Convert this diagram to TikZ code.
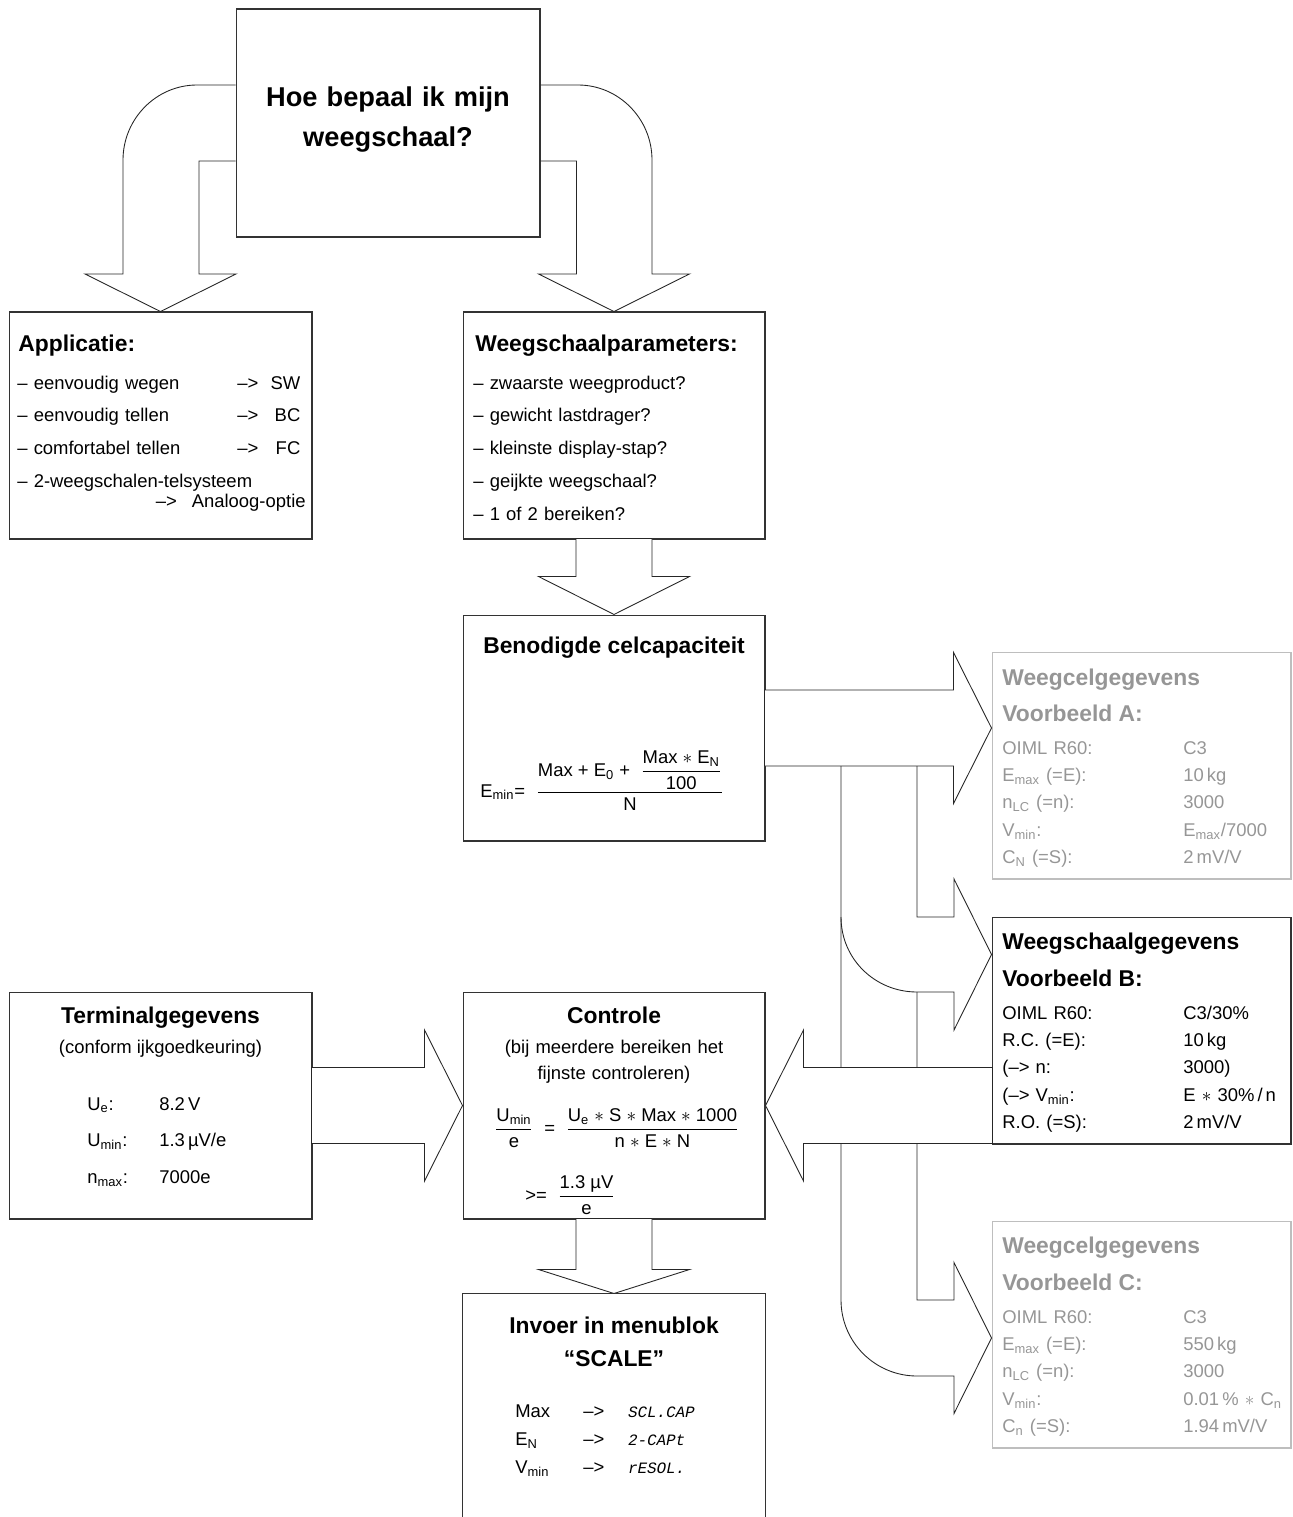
\documentclass[tikz,border=0pt]{standalone}
\usepackage{amsmath}
\usepackage{fontspec}
\setmainfont{Liberation Sans}
\newfontfamily\segfont{Liberation Mono}[FakeSlant=0.2]
\usepackage{tikz}
\usetikzlibrary{calc}
\definecolor{wcgrey}{RGB}{150,150,150}
\definecolor{wcline}{RGB}{190,190,190}
\newcommand{\idx}[1]{\textsubscript{#1}}
\newcommand{\drow}[2]{\makebox[3.62cm][l]{#1}#2}
\newcommand{\appl}[2]{\mbox{\makebox[4.4cm][l]{#1}–>\makebox[0.84cm][r]{#2}}}
% block arrows: [head length]{tip}{shaft length}
\newcommand{\blkdown}[3][38]{\draw[blk] (#2) -- ++(-75.5,-#1) -- ++(37.5,0) -- ++(0,-#3) -- ++(76,0) -- ++(0,#3) -- ++(37.5,0) -- cycle;}
\newcommand{\blkright}[3][38]{\draw[blk] (#2) -- ++(-#1,-75.5) -- ++(0,37.5) -- ++(-#3,0) -- ++(0,76) -- ++(#3,0) -- ++(0,37.5) -- cycle;}
\newcommand{\blkleft}[3][38]{\draw[blk] (#2) -- ++(#1,-75.5) -- ++(0,37.5) -- ++(#3,0) -- ++(0,76) -- ++(-#3,0) -- ++(0,37.5) -- cycle;}
\tikzset{
  box/.style={rectangle, draw=black!80, line width=0.6pt, minimum width=6.06cm, minimum height=4.54cm, inner sep=0pt},
  greybox/.style={box, draw=wcline, minimum width=5.98cm},
  blk/.style={draw=black!85, line width=0.5pt, fill=white},
  head/.style={font=\fontsize{13}{21}\selectfont\bfseries, inner sep=0pt},
  body/.style={font=\fontsize{10.5}{18.7}\selectfont, inner sep=0pt, align=left},
  rows/.style={body, anchor=base west, text width=5.6cm, font=\fontsize{10.5}{15.6}\selectfont}
}

\begin{document}
\begin{tikzpicture}[x=0.02cm, y=-0.02cm]
\useasboundingbox (0,0) rectangle (1292,1517);

% Question
\node[box, minimum width=6.08cm, minimum height=4.56cm] (frage) at (388,123) {};
\node[font=\fontsize{15.5}{22.7}\selectfont\bfseries, text width=6cm, align=center, anchor=base, inner sep=0pt] at (388,107) {Hoe bepaal ik mijn\\weegschaal?};

% Applicatie
\node[box] (appl) at (160.5,425.5) {};
\node[head, anchor=base west] at (18,351) {Applicatie:};
\node[body, anchor=base west, text width=6.2cm] at (17,389) {\appl{– eenvoudig wegen}{SW}\\ \appl{– eenvoudig tellen}{BC}\\ \appl{– comfortabel tellen}{FC}\\ – 2-weegschalen-telsysteem};
\node[body, anchor=base east] at (306,507) {–>\hspace{0.3cm}Analoog-optie};

% Weegschaalparameters
\node[box, minimum width=6.04cm] (param) at (614,425.5) {};
\node[head, anchor=base west] at (475,351) {Weegschaalparameters:};
\node[body, anchor=base west, text width=5.6cm] at (473,389) {– zwaarste weegproduct?\\ – gewicht lastdrager?\\ – kleinste display-stap?\\ – geijkte weegschaal?\\ – 1 of 2 bereiken?};

% Benodigde celcapaciteit
\node[box, minimum width=6.04cm, minimum height=4.52cm] (bened) at (614,728) {};
\node[head, anchor=base] at (614,653) {Benodigde celcapaciteit};
\node[body, anchor=base west] at (480,797) {$\text{E\idx{min}=}\;\;\dfrac{\text{Max + E\idx{0} + }\;\dfrac{\text{Max $\ast$ E\idx{N}}}{\text{100}}}{\text{N}}$};

% Terminalgegevens
\node[box] (term) at (160.5,1105.5) {};
\node[head, anchor=base] at (160.5,1023) {Terminalgegevens};
\node[body, anchor=base] at (160.5,1053) {(conform ijkgoedkeuring)};
\node[body, anchor=base west, text width=3.5cm, font=\fontsize{10.5}{21}\selectfont] at (87,1110) {\makebox[1.44cm][l]{U\idx{e}:}8.2\,V\\ \makebox[1.44cm][l]{U\idx{min}:}1.3\,µV/e\\ \makebox[1.44cm][l]{n\idx{max}:}7000e};

% Controle
\node[box, minimum width=6.04cm] (contr) at (614,1105.5) {};
\node[head, anchor=base] at (614,1023) {Controle};
\node[body, align=center, anchor=base, text width=5.8cm, font=\fontsize{10.5}{15}\selectfont] at (614,1053) {(bij meerdere bereiken het\\fijnste controleren)};
\node[body, anchor=west] at (494,1128) {$\dfrac{\text{U\idx{min}}}{\text{e}}\;\;\text{=}\;\;\dfrac{\text{U\idx{e} $\ast$ S $\ast$ Max $\ast$ 1000}}{\text{n $\ast$ E $\ast$ N}}$};
\node[body, anchor=west] at (525,1195) {$\text{>=}\;\;\dfrac{\text{1.3 µV}}{\text{e}}$};

% Invoer in menublok
\node[box, draw=none, minimum width=6.04cm, minimum height=4.46cm] (invoer) at (614,1405.5) {};
\draw[black!80, line width=0.6pt] (invoer.south west) -- (invoer.north west) -- (invoer.north east) -- (invoer.south east);
\node[head, anchor=base] at (614,1333) {Invoer in menublok};
\node[head, anchor=base] at (614,1366) {“SCALE”};
\node[body, anchor=base west, text width=5cm, font=\fontsize{10.5}{16.2}\selectfont] at (515,1417) {\makebox[1.36cm][l]{Max}\makebox[0.88cm][l]{–>}{\segfont\fontsize{9}{16.2}\selectfont SCL.CAP}\\ \makebox[1.36cm][l]{E\idx{N}}\makebox[0.88cm][l]{–>}{\segfont\fontsize{9}{16.2}\selectfont 2-CAPt}\\ \makebox[1.36cm][l]{V\idx{min}}\makebox[0.88cm][l]{–>}{\segfont\fontsize{9}{16.2}\selectfont rESOL.}};

% Voorbeeld A
\node[greybox] (wcA) at (1141.5,765.5) {};
\node[head, text=wcgrey, anchor=base west] at (1002,685) {Weegcelgegevens};
\node[head, text=wcgrey, anchor=base west] at (1002,721) {Voorbeeld A:};
\node[rows, text=wcgrey] at (1002,754) {\drow{OIML R60:}{C3}\\ \drow{E\idx{max} (=E):}{10\,kg}\\ \drow{n\idx{LC} (=n):}{3000}\\ \drow{V\idx{min}:}{E\idx{max}/7000}\\ \drow{C\idx{N} (=S):}{2\,mV/V}};

% Voorbeeld B
\node[box, minimum width=5.98cm] (wsB) at (1141.5,1030.5) {};
\node[head, anchor=base west] at (1002,949) {Weegschaalgegevens};
\node[head, anchor=base west] at (1002,986) {Voorbeeld B:};
\node[rows] at (1002,1019) {\drow{OIML R60:}{C3/30\%}\\ \drow{R.C. (=E):}{10\,kg}\\ \drow{(–> n:}{3000)}\\ \drow{(–> V\idx{min}:}{E $\ast$ 30\%\,/\,n}\\ \drow{R.O. (=S):}{2\,mV/V}};

% Voorbeeld C
\node[greybox] (wcC) at (1141.5,1334.5) {};
\node[head, text=wcgrey, anchor=base west] at (1002,1253) {Weegcelgegevens};
\node[head, text=wcgrey, anchor=base west] at (1002,1290) {Voorbeeld C:};
\node[rows, text=wcgrey] at (1002,1323) {\drow{OIML R60:}{C3}\\ \drow{E\idx{max} (=E):}{550\,kg}\\ \drow{n\idx{LC} (=n):}{3000}\\ \drow{V\idx{min}:}{0.01\,\% $\ast$ C\idx{n}}\\ \drow{C\idx{n} (=S):}{1.94\,mV/V}};

% Arrows from the question
\draw[blk, fill=none] (frage.west |- 0,85) -- (197,85) .. controls (156,85) and (123,119) .. (123,160) -- (123,274) -- (85,274) -- (appl.north) -- (236,274) -- (199,274) -- (199,161) -- (frage.west |- 0,161);
\draw[blk, fill=none] (frage.east |- 0,85) -- (578,85) .. controls (619,85) and (652,119) .. (652,160) -- (652,274) -- (689.5,274) -- (param.north) -- (538.5,274) -- (576.5,274) -- (576.5,161) -- (frage.east |- 0,161);

% Straight arrows
\blkdown{bened.north}{38}
\blkdown[24]{invoer.north}{51}
\blkright{contr.west}{113}
\blkright{wcA.west |- 0,728}{189}

% Branches to B and C
\draw[blk, fill=none] (841,766) -- (841,1300) .. controls (841,1342) and (875,1376) .. (917,1376) -- (954,1376) -- (954,1413.5) -- (wcC.west |- 0,1338) -- (954,1262.5) -- (954,1300) -- (917,1300) -- (917,992);
\draw[blk, fill=none] (917,766) -- (917,917) -- (954,917) -- (954,879) -- (wsB.west |- 0,954.5) -- (954,1030) -- (954,992) -- (917,992) .. controls (875,992) and (841,959) .. (841,917);
\blkleft{contr.east}{189}
\end{tikzpicture}
\end{document}
